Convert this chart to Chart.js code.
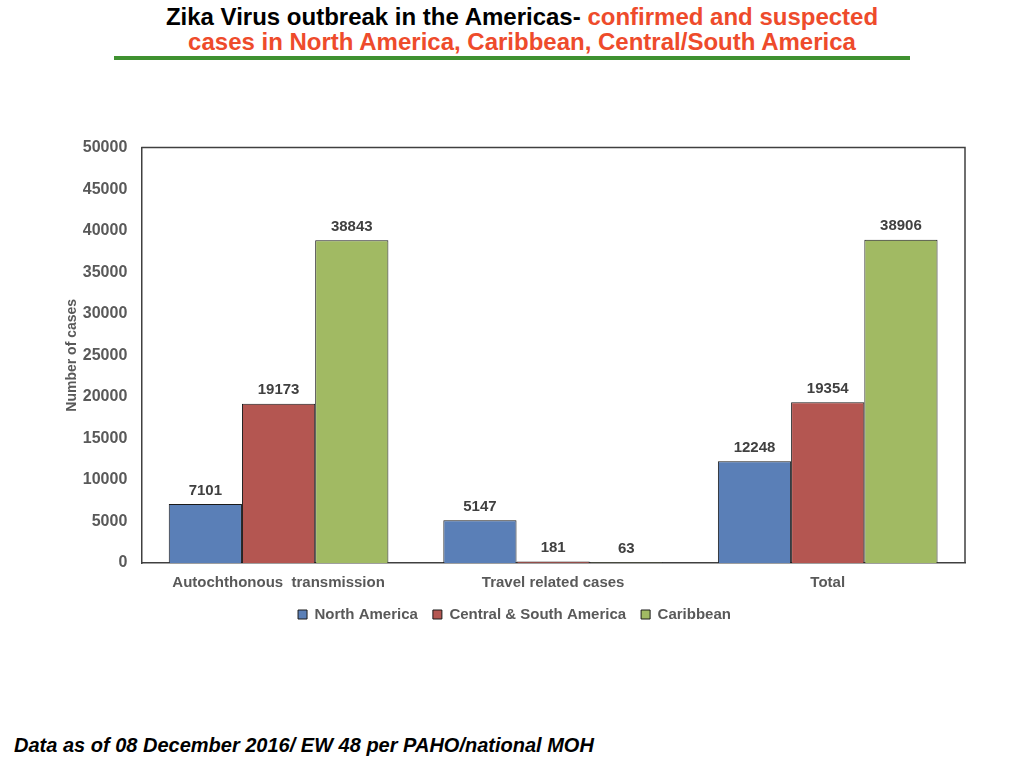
<!DOCTYPE html>
<html>
<head>
<meta charset="utf-8">
<script src="https://cdn.jsdelivr.net/npm/chart.js@4"></script>
<style>
  html, body { margin: 0; padding: 0; background: #fff; width: 1024px; height: 768px; overflow: hidden; }
  #title { position: absolute; left: 0; top: 4px; width: 1044px; text-align: center; font-family: "Liberation Sans", Arial, sans-serif; font-weight: bold; font-size: 24px; line-height: 25px; color: #000; }
  #title .red { color: #EE4B2B; }
  #rule { position: absolute; left: 114px; top: 56px; width: 796px; height: 4px; background: #3F9130; }
  #foot { position: absolute; left: 14px; top: 734px; font-family: "Liberation Sans", Arial, sans-serif; font-weight: bold; font-style: italic; font-size: 20px; color: #000; }
  #wrap { position: absolute; left: 64px; top: 124px; width: 921px; height: 508px; }
</style>
</head>
<body>
<div id="title">Zika Virus outbreak in the Americas- <span class="red">confirmed and suspected</span><br><span class="red">cases in North America, Caribbean, Central/South America</span></div>
<div id="rule"></div>
<div id="wrap"><canvas id="c"></canvas></div>
<div id="foot">Data as of 08 December 2016/ EW 48 per PAHO/national MOH</div>
<script>
const categories = ["Autochthonous  transmission", "Travel related cases", "Total"];
const northAmerica = [7101, 5147, 12248];
const centralSouthAmerica = [19173, 181, 19354];
const caribbean = [38843, 63, 38906];
const seriesNames = ["North America", "Central & South America", "Caribbean"];
const yTicks = [0, 5000, 10000, 15000, 20000, 25000, 30000, 35000, 40000, 45000, 50000];

const FONT = '"Liberation Sans", Arial, sans-serif';

const labelPlugin = {
  id: 'valueLabels',
  afterDatasetsDraw(chart) {
    const ctx = chart.ctx;
    ctx.save();
    ctx.font = 'bold 15px ' + FONT;
    ctx.fillStyle = '#404040';
    ctx.textAlign = 'center';
    ctx.textBaseline = 'bottom';
    chart.data.datasets.forEach((ds, i) => {
      const meta = chart.getDatasetMeta(i);
      meta.data.forEach((bar, j) => {
        ctx.fillText(String(ds.data[j]), bar.x, bar.y - 6);
      });
    });
    const a = chart.chartArea;
    ctx.strokeStyle = '#404040';
    ctx.lineWidth = 1.5;
    ctx.beginPath();
    ctx.moveTo(a.left, a.top); ctx.lineTo(a.right, a.top); ctx.lineTo(a.right, a.bottom);
    ctx.stroke();
    ctx.restore();
  }
};

new Chart(document.getElementById('c'), {
  type: 'bar',
  data: {
    labels: categories,
    datasets: [
      { label: seriesNames[0], data: northAmerica, backgroundColor: '#5A7FB7', borderColor: '#1a1a1a', borderWidth: 1 },
      { label: seriesNames[1], data: centralSouthAmerica, backgroundColor: '#B45651', borderColor: '#1a1a1a', borderWidth: 1 },
      { label: seriesNames[2], data: caribbean, backgroundColor: '#A1BA63', borderColor: '#1a1a1a', borderWidth: 1 }
    ]
  },
  options: {
    responsive: true,
    maintainAspectRatio: false,
    animation: false,
    devicePixelRatio: 1,
    layout: { padding: { top: 2, right: 20, left: 0, bottom: 0 } },
    datasets: { bar: { categoryPercentage: 0.8, barPercentage: 1.0 } },
    scales: {
      x: {
        grid: { display: false, drawTicks: false },
        border: { display: true, color: '#404040', width: 1.5 },
        ticks: { color: '#595959', font: { family: FONT, size: 15, weight: 'bold' }, padding: 11 },
        afterFit(scale) { scale.height -= 11; }
      },
      y: {
        min: 0, max: 50000,
        afterBuildTicks(axis) { axis.ticks = yTicks.map(v => ({ value: v })); },
        grid: { display: false, drawTicks: false },
        border: { display: true, color: '#404040', width: 1.5 },
        ticks: { color: '#595959', font: { family: FONT, size: 16, weight: 'bold' }, padding: 14, callback: (v) => String(v) },
        title: { display: true, text: 'Number of cases', color: '#595959', font: { family: FONT, size: 14, weight: 'bold' }, padding: { top: 0, bottom: -12 } }
      }
    },
    plugins: {
      legend: {
        position: 'bottom',
        labels: { color: '#595959', boxWidth: 9, boxHeight: 9, padding: 15, font: { family: FONT, size: 15, weight: 'bold' } }
      },
      tooltip: { enabled: false }
    }
  },
  plugins: [labelPlugin]
});
</script>
</body>
</html>
